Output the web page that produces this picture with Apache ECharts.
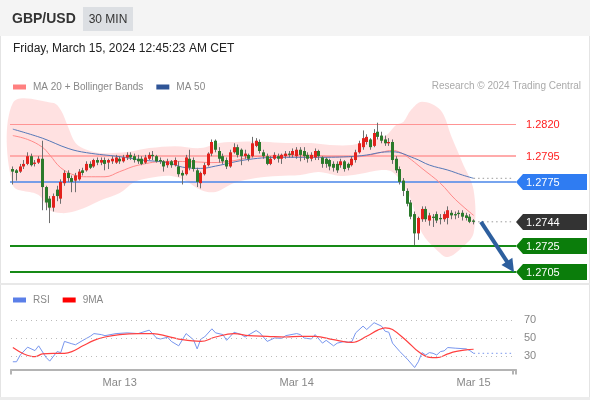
<!DOCTYPE html>
<html><head><meta charset="utf-8">
<script src="https://cdn.jsdelivr.net/npm/echarts@6/dist/echarts.min.js"></script>
<style>html,body{margin:0;padding:0;background:#fff}#c{width:590px;height:400px}</style>
</head><body><div id="c"></div>
<script>
// ---------- DATA ----------
// 30-min candles: [open, close, low, high]
const candles = [
[1.2785,1.2783,1.2773,1.2787],[1.2784,1.2782,1.2776,1.2785],[1.2783,1.2787,1.2782,1.2789],[1.2787,1.2789,1.2785,1.2792],
[1.2789,1.2795,1.2788,1.2798],[1.2795,1.2788,1.2787,1.2797],[1.2789,1.2790,1.2787,1.2792],[1.2790,1.2793,1.2789,1.2795],
[1.2793,1.2771,1.2753,1.2807],[1.2771,1.2759,1.2753,1.2772],[1.2762,1.2755,1.2743,1.2764],[1.2755,1.2764,1.2752,1.2766],
[1.2769,1.2764,1.2760,1.2772],[1.2762,1.2775,1.2758,1.2777],[1.2774,1.2782,1.2772,1.2784],[1.2782,1.2778,1.2775,1.2784],
[1.2778,1.2775,1.2767,1.2780],[1.2776,1.2780,1.2767,1.2782],[1.2777,1.2783,1.2776,1.2785],[1.2784,1.2782,1.2780,1.2786],
[1.2784,1.2789,1.2783,1.2791],[1.2789,1.2786,1.2785,1.2791],[1.2787,1.2792,1.2786,1.2793],[1.2792,1.2790,1.2788,1.2794],
[1.2790,1.2792,1.2788,1.2794],[1.2792,1.2789,1.2784,1.2794],[1.2790,1.2792,1.2785,1.2793],[1.2791,1.2793,1.2789,1.2795],
[1.2790,1.2794,1.2789,1.2796],[1.2793,1.2791,1.2789,1.2795],[1.2791,1.2794,1.2790,1.2796],[1.2794,1.2796,1.2792,1.2798],
[1.2796,1.2794,1.2792,1.2798],[1.2795,1.2792,1.2790,1.2797],[1.2793,1.2791,1.2789,1.2796],[1.2793,1.2789,1.2788,1.2795],
[1.2790,1.2794,1.2789,1.2796],[1.2793,1.2796,1.2792,1.2798],[1.2796,1.2795,1.2792,1.2799],[1.2795,1.2791,1.2790,1.2796],
[1.2792,1.2791,1.2789,1.2794],[1.2791,1.2787,1.2783,1.2792],[1.2788,1.2791,1.2786,1.2793],[1.2791,1.2788,1.2786,1.2792],
[1.2788,1.2792,1.2787,1.2794],[1.2787,1.2781,1.2779,1.2791],[1.2782,1.2780,1.2773,1.2784],[1.2781,1.2794,1.2780,1.2796],
[1.2793,1.2786,1.2784,1.2800],[1.2792,1.2785,1.2783,1.2794],[1.2784,1.2775,1.2771,1.2786],[1.2774,1.2782,1.2770,1.2783],
[1.2781,1.2788,1.2780,1.2790],[1.2788,1.2797,1.2787,1.2798],[1.2797,1.2806,1.2795,1.2808],[1.2807,1.2800,1.2798,1.2808],
[1.2799,1.2793,1.2790,1.2802],[1.2795,1.2791,1.2789,1.2797],[1.2792,1.2787,1.2785,1.2794],[1.2787,1.2798,1.2786,1.2800],
[1.2798,1.2802,1.2797,1.2805],[1.2802,1.2796,1.2794,1.2804],[1.2800,1.2795,1.2788,1.2801],[1.2795,1.2797,1.2793,1.2800],
[1.2796,1.2793,1.2791,1.2797],[1.2795,1.2805,1.2794,1.2810],[1.2803,1.2807,1.2802,1.2809],[1.2806,1.2799,1.2797,1.2808],
[1.2798,1.2795,1.2793,1.2800],[1.2795,1.2789,1.2788,1.2797],[1.2789,1.2793,1.2788,1.2795],[1.2793,1.2796,1.2792,1.2798],
[1.2795,1.2793,1.2790,1.2797],[1.2793,1.2796,1.2789,1.2797],[1.2795,1.2797,1.2793,1.2799],[1.2797,1.2796,1.2794,1.2799],
[1.2796,1.2799,1.2794,1.2801],[1.2795,1.2800,1.2793,1.2802],[1.2800,1.2796,1.2791,1.2802],[1.2799,1.2795,1.2792,1.2802],
[1.2796,1.2793,1.2790,1.2798],[1.2793,1.2796,1.2791,1.2798],[1.2794,1.2799,1.2792,1.2801],[1.2799,1.2795,1.2792,1.2800],
[1.2794,1.2789,1.2786,1.2795],[1.2793,1.2789,1.2786,1.2794],[1.2792,1.2787,1.2784,1.2793],[1.2789,1.2786,1.2783,1.2791],
[1.2789,1.2784,1.2782,1.2791],[1.2788,1.2791,1.2786,1.2793],[1.2791,1.2785,1.2783,1.2792],[1.2789,1.2786,1.2784,1.2790],
[1.2788,1.2793,1.2787,1.2795],[1.2792,1.2798,1.2790,1.2800],[1.2798,1.2805,1.2797,1.2807],[1.2802,1.2809,1.2800,1.2815],
[1.2806,1.2810,1.2804,1.2812],[1.2808,1.2802,1.2800,1.2809],[1.2803,1.2813,1.2802,1.2816],[1.2814,1.2810,1.2808,1.2821],
[1.2811,1.2807,1.2805,1.2814],[1.2808,1.2805,1.2803,1.2811],[1.2805,1.2806,1.2803,1.2809],[1.2806,1.2792,1.2789,1.2808],
[1.2793,1.2784,1.2782,1.2795],[1.2785,1.2775,1.2773,1.2787],[1.2776,1.2768,1.2764,1.2778],[1.2768,1.2758,1.2756,1.2770],
[1.2759,1.2748,1.2746,1.2761],[1.2750,1.2735,1.2726,1.2752],[1.2735,1.2747,1.2730,1.2748],[1.2746,1.2754,1.2744,1.2756],
[1.2754,1.2746,1.2744,1.2756],[1.2745,1.2749,1.2741,1.2751],[1.2748,1.2747,1.2740,1.2750],[1.2750,1.2745,1.2743,1.2752],
[1.2747,1.2746,1.2742,1.2750],[1.2746,1.2750,1.2744,1.2752],[1.2747,1.2753,1.2742,1.2756],[1.2751,1.2749,1.2746,1.2753],
[1.2750,1.2749,1.2746,1.2752],[1.2751,1.2750,1.2747,1.2753],[1.2751,1.2748,1.2745,1.2753],[1.2749,1.2747,1.2745,1.2751],
[1.2748,1.2744,1.2743,1.2750],[1.2745,1.2744,1.2742,1.2746]
];
// indicator points: [candle index, value]
const ma20 = [[0,1.2811],[4,1.2808],[8,1.2802],[10,1.2796],[13,1.2786],[17,1.2780],[20,1.2779],[25,1.2779],[29,1.2783],[34,1.2788],[42,1.2791],[50,1.27905],[54,1.2790],[60,1.27915],[65,1.27945],[70,1.2795],[75,1.2796],[82,1.27955],[88,1.27945],[93,1.27945],[97,1.2796],[100,1.2798],[103,1.27995],[105,1.2798],[107,1.27946],[111,1.27855],[116,1.27739],[120,1.27615],[125,1.2749]];
const ma50 = [[0,1.2816],[8,1.2809],[15,1.2801],[20,1.27977],[29,1.27946],[35,1.2792],[42,1.2790],[46,1.27865],[51,1.27855],[55,1.27873],[64,1.27925],[73,1.27941],[82,1.27941],[91,1.27946],[96,1.27959],[100,1.2798],[103,1.27984],[109,1.27933],[113,1.27881],[118,1.27842],[122,1.27803],[125,1.27778]];
const upperBand = [[0,1.28363],[11,1.28363],[13,1.28308],[15,1.28176],[17,1.28052],[20,1.2800],[24,1.27974],[31,1.27982],[37,1.28013],[44,1.28028],[51,1.28013],[56,1.28052],[62,1.28062],[68,1.28062],[74,1.28052],[81,1.28052],[86,1.28037],[92,1.28037],[96,1.28068],[101,1.28106],[104,1.28192],[106,1.28218],[108,1.28308],[111,1.28373],[116,1.28308],[119,1.28101],[122,1.27897],[125,1.27687]];
const lowerBand = [[0,1.27726],[7,1.27648],[10,1.27532],[13,1.27508],[16,1.27516],[20,1.27555],[24,1.27609],[29,1.27663],[33,1.27749],[37,1.2778],[43,1.27796],[47,1.27757],[51,1.27687],[55,1.27672],[60,1.27741],[66,1.2778],[72,1.27796],[78,1.27803],[83,1.27827],[89,1.27796],[94,1.27811],[100,1.27842],[103,1.27827],[106,1.27726],[108,1.27609],[111,1.27353],[115,1.27221],[118,1.27166],[122,1.27244],[125,1.27353]];
const rsi = [[0,23.6],[1,23.6],[2,31],[4,39.8],[6,36],[7,41.3],[9,28.5],[10,24.3],[12,34.9],[13,33.8],[14,46.2],[16,43.6],[17,42.5],[19,47.4],[21,51.9],[22,54.9],[24,53.8],[25,52.6],[28,54.9],[31,55.7],[34,54.9],[37,58.7],[39,50],[40,48.9],[42,50.8],[43,46.2],[45,41.3],[47,54.9],[49,48.1],[50,37.9],[51,48.9],[52,51.1],[54,60.2],[55,55.7],[57,53.8],[58,47.4],[60,56.4],[62,53.8],[63,51.1],[66,58.3],[67,55.7],[69,46.2],[71,50],[73,49.6],[74,52.6],[77,54.9],[78,53.8],[79,50],[81,48.9],[82,53.8],[84,44.3],[85,47.4],[87,41.3],[88,44.3],[90,46.2],[91,45.1],[92,46.2],[93,55.7],[95,63.2],[96,59.4],[98,67],[100,63.2],[101,57.5],[102,56.4],[103,44.3],[105,34.9],[107,26.6],[109,17.2],[110,23.6],[111,33.8],[112,31.1],[113,33.8],[114,33],[115,31.1],[116,34.9],[117,35.7],[118,39.4],[120,38.7],[123,37.9],[124,36],[125,33]];
const rsiMa9 = [[0,39.4],[3,32.3],[6,29.2],[8,32.3],[11,33],[14,33],[16,34.9],[19,41.3],[22,47.4],[25,51.1],[29,53.8],[34,54.9],[38,54.9],[42,51.9],[46,48.1],[51,46.2],[55,51.1],[60,54.9],[64,52.6],[69,51.9],[74,51.1],[78,51.9],[82,51.9],[87,48.1],[92,45.1],[96,51.9],[99,58.7],[101,61.3],[103,59.4],[107,46.2],[110,34.9],[113,28.5],[115,28.1],[118,32.3],[120,34.9],[123,36.8],[125,37.5]];
const levelValues = [1.2820, 1.2795, 1.2775, 1.2744, 1.2725, 1.2705];
const rsiLevels = [70, 50, 30];
const tickIndex = [29, 77, 125];
const tickLabels = ['Mar 13', 'Mar 14', 'Mar 15'];
const arrowFrom = [127, 1.2744];
const arrowTo = [135, 1.2709];
const slotCount = 137;

// ---------- BUILD ----------
const t0 = Date.UTC(2024, 2, 12, 9, 30);
const categories = Array.from({length: slotCount}, (_, k) => new Date(t0 + k * 1800000).toISOString().slice(0, 16));
const lastIdx = candles.length - 1;
const lastEnd = slotCount - 1;
const FONT = 'Arial, "Liberation Sans", sans-serif';

const levelStyles = [
  {line: '#ff9494', lw: 1, tag: null, text: '#ff2020'},
  {line: '#ffabab', lw: 2, tag: null, text: '#ff2020'},
  {line: '#4a86e8', lw: 1.5, tag: '#2f7cf2', text: '#fff'},
  {line: null, lw: 0, tag: '#333333', text: '#fff'},
  {line: '#168a16', lw: 2, tag: '#0b7d0b', text: '#fff'},
  {line: '#168a16', lw: 2, tag: '#0b7d0b', text: '#fff'}
];

function renderCandle(params, api) {
  const i = api.value(0), o = api.value(1), c = api.value(2), l = api.value(3), h = api.value(4);
  const pO = api.coord([i, o]), pC = api.coord([i, c]), pL = api.coord([i, l]), pH = api.coord([i, h]);
  const bx = Math.round(pO[0] - 1.5);
  const top = Math.min(pO[1], pC[1]), bot = Math.max(pO[1], pC[1]);
  const up = c > o;
  return {type: 'group', children: [
    {type: 'line', shape: {x1: bx + 1.5, y1: pH[1], x2: bx + 1.5, y2: pL[1]}, style: {stroke: '#6e6e6e', lineWidth: 1}},
    {type: 'rect', shape: {x: bx, y: top, width: 3, height: Math.max(1, bot - top)}, style: {fill: up ? '#e3211c' : '#2b7a2b'}}
  ]};
}

function renderBand(params, api) {
  const pts = upperBand.map(d => api.coord(d)).concat(lowerBand.slice().reverse().map(d => api.coord(d)));
  return {type: 'polygon', shape: {points: pts, smooth: 0.35}, style: {fill: 'rgba(255,140,140,0.26)'}};
}

function renderLevels(params, api) {
  const k = params.dataIndex;
  const v = api.value(1);
  const st = levelStyles[k];
  const cs = params.coordSys;
  const y = Math.round(api.coord([0, v])[1]) + (st.lw === 1 ? 0.5 : 0);
  const xr = cs.x + cs.width;
  const ch = [];
  if (st.line) ch.push({type: 'line', shape: {x1: cs.x - 1, y1: y, x2: xr, y2: y}, style: {stroke: st.line, lineWidth: st.lw}});
  const yc = Math.round(api.coord([0, v])[1]);
  if (st.tag) {
    ch.push({type: 'polygon', shape: {points: [[xr, yc], [xr + 7, yc - 8], [xr + 71, yc - 8], [xr + 71, yc + 8], [xr + 7, yc + 8]]}, style: {fill: st.tag}});
  }
  ch.push({type: 'text', style: {text: v.toFixed(4), x: xr + 10, y: yc + 0.5, fill: st.text, font: '11px ' + FONT,
    align: 'left', verticalAlign: 'middle', textAlign: 'left', textVerticalAlign: 'middle'}});
  return {type: 'group', children: ch};
}

const option = {
  animation: false,
  backgroundColor: '#ffffff',
  textStyle: {fontFamily: FONT},
  graphic: [
    {type: 'rect', shape: {x: 0, y: 0, width: 590, height: 36}, style: {fill: '#f4f4f4'}, z: -10},
    {type: 'rect', shape: {x: 83, y: 7, width: 50, height: 24}, style: {fill: '#dcdfe3'}, z: -5},
    {type: 'text', style: {text: 'GBP/USD', x: 12, y: 19, font: 'bold 14px ' + FONT, fill: '#333', textVerticalAlign: 'middle', verticalAlign: 'middle'}},
    {type: 'text', style: {text: '30 MIN', x: 108, y: 19.5, font: '12px ' + FONT, fill: '#333', textAlign: 'center', align: 'center', textVerticalAlign: 'middle', verticalAlign: 'middle'}},
    {type: 'text', style: {text: 'Friday, March 15, 2024 12:45:23 AM CET', x: 13, y: 48.5, font: '12px ' + FONT, fill: '#222', textVerticalAlign: 'middle', verticalAlign: 'middle'}},
    {type: 'text', style: {text: 'Research \u00a9 2024 Trading Central', x: 581, y: 86.5, font: '10px ' + FONT, fill: '#aaa', textAlign: 'right', align: 'right', textVerticalAlign: 'middle', verticalAlign: 'middle'}},
    {type: 'rect', shape: {x: 0, y: 36, width: 1, height: 364}, style: {fill: '#e4e4e4'}},
    {type: 'rect', shape: {x: 589, y: 36, width: 1, height: 364}, style: {fill: '#e4e4e4'}},
    {type: 'rect', shape: {x: 0, y: 283, width: 590, height: 2}, style: {fill: '#e8e8e8'}},
    {type: 'rect', shape: {x: 0, y: 397, width: 590, height: 3}, style: {fill: '#ececec'}}
  ],
  legend: [
    {left: 13, top: 82, padding: 0, itemWidth: 13, itemHeight: 5, itemGap: 13, icon: 'rect', selectedMode: false,
     textStyle: {color: '#888', fontSize: 10, fontFamily: FONT, padding: [0, 0, 0, 2]},
     data: [{name: 'MA 20 + Bollinger Bands', itemStyle: {color: '#ff8080'}}, {name: 'MA 50', itemStyle: {color: '#2f5597'}}]},
    {left: 13, top: 295, padding: 0, itemWidth: 13, itemHeight: 5, itemGap: 13, icon: 'rect', selectedMode: false,
     textStyle: {color: '#888', fontSize: 10, fontFamily: FONT, padding: [0, 0, 0, 2]},
     data: [{name: 'RSI', itemStyle: {color: '#5b7fe8'}}, {name: '9MA', itemStyle: {color: '#ff0000'}}]}
  ],
  grid: [
    {left: 11, right: 74, top: 85.39, bottom: 115.13},
    {left: 11, right: 74, top: 311, bottom: 30.5}
  ],
  xAxis: [
    {type: 'category', gridIndex: 0, data: categories, boundaryGap: true, show: false},
    {type: 'category', gridIndex: 1, data: categories, boundaryGap: true,
     axisLine: {lineStyle: {color: '#b4b4b4', width: 2}},
     axisTick: {show: true, length: 5, lineStyle: {color: '#b4b4b4', width: 2}, interval: (i) => i === 0 || i === lastEnd},
     axisLabel: {color: '#888', fontSize: 11, margin: 8, interval: (i) => tickIndex.includes(i),
       formatter: (val, i) => { const k = tickIndex.indexOf(i); return k >= 0 ? tickLabels[k] : ''; }},
     splitLine: {show: false}}
  ],
  yAxis: [
    {type: 'value', gridIndex: 0, min: 1.2695, max: 1.2850, show: false, splitLine: {show: false}},
    {type: 'value', gridIndex: 1, min: 15, max: 80, show: false, splitLine: {show: false}}
  ],
  series: [
    {type: 'custom', name: 'band', xAxisIndex: 0, yAxisIndex: 0, data: [[0, 1.278]], renderItem: renderBand, z: 1, silent: true, clip: false},
    {type: 'custom', name: 'levels', xAxisIndex: 0, yAxisIndex: 0, data: levelValues.map(v => [0, v]), renderItem: renderLevels, z: 2, silent: true, clip: false},
    {type: 'line', name: 'MA 20 + Bollinger Bands', xAxisIndex: 0, yAxisIndex: 0, data: ma20, smooth: 0.4, symbol: 'none',
     lineStyle: {color: '#ff8a8a', width: 1}, itemStyle: {color: '#ff8080'}, z: 3},
    {type: 'line', name: 'MA 50', xAxisIndex: 0, yAxisIndex: 0, data: ma50, smooth: 0.4, symbol: 'none',
     lineStyle: {color: '#5578b8', width: 1}, itemStyle: {color: '#2f5597'}, z: 3},
    {type: 'line', name: 'ma50ext', xAxisIndex: 0, yAxisIndex: 0, data: [[lastIdx, ma50[ma50.length - 1][1]], [lastEnd, ma50[ma50.length - 1][1]]],
     symbol: 'none', lineStyle: {color: '#9a9a9a', width: 1, type: [1.5, 3]}, z: 3,
     markLine: {silent: true, symbol: ['none', 'triangle'], symbolSize: [13, 13], label: {show: false},
       lineStyle: {color: '#2d5f9e', width: 4, type: 'solid'}, data: [[{coord: arrowFrom}, {coord: arrowTo}]]}},
    {type: 'line', name: 'closeext', xAxisIndex: 0, yAxisIndex: 0, data: [[lastIdx, levelValues[3]], [lastEnd, levelValues[3]]],
     symbol: 'none', lineStyle: {color: '#9a9a9a', width: 1, type: [1.5, 3]}, z: 3},
    {type: 'custom', name: 'candles', xAxisIndex: 0, yAxisIndex: 0, data: candles.map((d, i) => [i, d[0], d[1], d[2], d[3]]),
     encode: {x: 0, y: [1, 2, 3, 4]}, renderItem: renderCandle, z: 4, silent: true, clip: false},
    {type: 'line', name: 'RSI', xAxisIndex: 1, yAxisIndex: 1, data: rsi, symbol: 'none', lineStyle: {color: '#7896ee', width: 1}, itemStyle: {color: '#5b7fe8'}, z: 3,
     markLine: {silent: true, symbol: ['none', 'none'], lineStyle: {color: '#bbbbbb', width: 1, type: [1, 4]},
       label: {show: true, position: 'end', formatter: '{c}', color: '#888', fontSize: 11, distance: 8},
       data: rsiLevels.map(v => ({yAxis: v}))}},
    {type: 'line', name: 'rsiext', xAxisIndex: 1, yAxisIndex: 1, data: [[lastIdx, rsi[rsi.length - 1][1]], [lastEnd, rsi[rsi.length - 1][1]]],
     symbol: 'none', lineStyle: {color: '#7896ee', width: 1, type: [1.5, 3]}, z: 3},
    {type: 'line', name: '9MA', xAxisIndex: 1, yAxisIndex: 1, data: rsiMa9, smooth: 0.4, symbol: 'none', lineStyle: {color: '#ff4040', width: 1.2}, itemStyle: {color: '#ff0000'}, z: 4}
  ]
};
const chart = echarts.init(document.getElementById('c'));
chart.setOption(option);
</script>
</body></html>
